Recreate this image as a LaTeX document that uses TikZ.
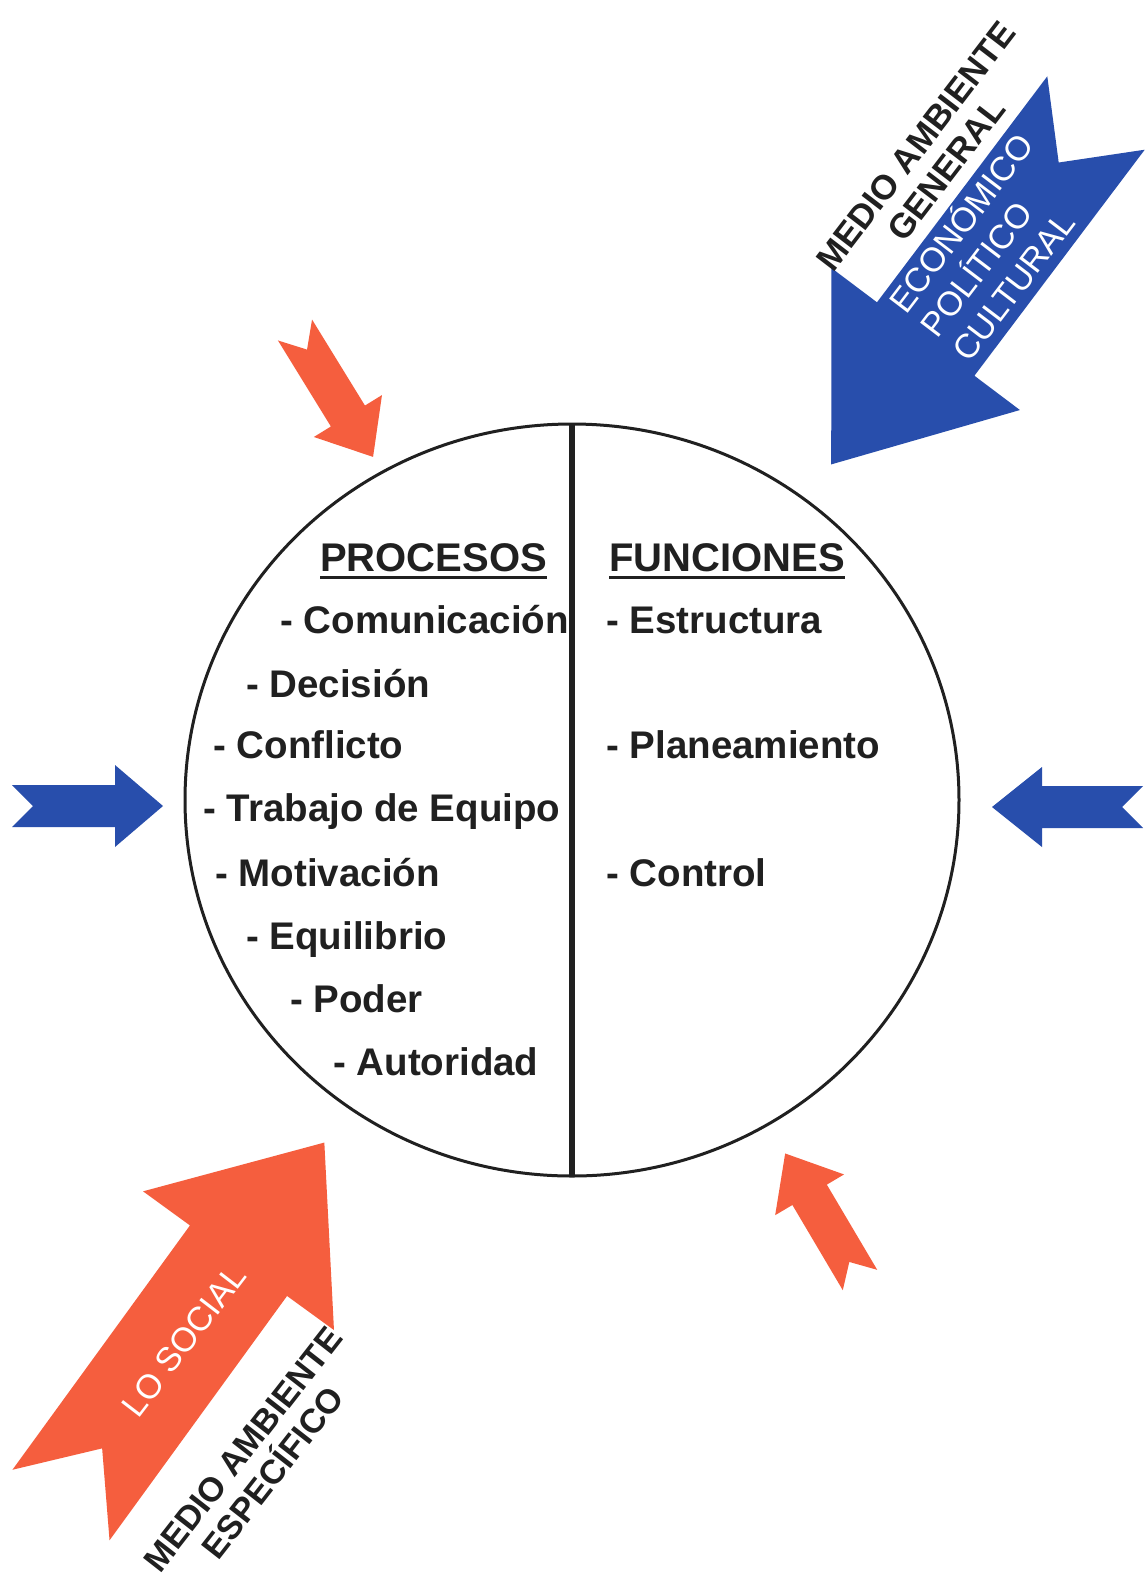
\documentclass[tikz,border=0pt]{standalone}
\usepackage{fontspec}
\setmainfont{Liberation Sans}
\definecolor{arrblue}{RGB}{40,78,172}
\definecolor{arrred}{RGB}{245,94,62}
\definecolor{ink}{RGB}{32,32,32}
% #1 colour, #2 #3 tail centre, #4 angle, #5 length, #6 shaft half width,
% #7 head half width, #8 head length, #9 notch depth
\newcommand\fatarrow[9]{%
  \fill[#1, shift={(#2,#3)}, rotate=#4]
    (0,#6) -- ({#5-#8},#6) -- ({#5-#8},#7) -- (#5,0) -- ({#5-#8},-#7)
    -- ({#5-#8},-#6) -- (0,-#6) -- (#9,0) -- cycle;}
\begin{document}
\begin{tikzpicture}[x=1pt,y=-1pt,
  item/.style={anchor=base west, inner sep=0pt, text=ink,
    font=\fontsize{38.5}{40}\selectfont\bfseries},
  title/.style={item, font=\fontsize{40}{42}\selectfont\bfseries},
  uline/.style={line width=3pt, draw=ink},
  outertxt/.style={inner sep=0pt, align=center, text=ink,
    font=\fontsize{34.5}{38}\selectfont\bfseries},
  innertxt/.style={inner sep=0pt, text=white,
    font=\fontsize{34}{40}\selectfont}]
\useasboundingbox (0,0) rectangle (1145,1580);
\fill[white] (0,0) rectangle (1145,1580);

% circle and divider
\coordinate (c) at (572,800);
\coordinate (ctop) at (572,424);
\coordinate (cbot) at (572,1176);
\draw[line width=3pt, draw=ink] (c) ellipse [x radius=387, y radius=376];
\draw[line width=5.5pt, draw=ink] (ctop) -- (cbot);

% headings
\node[title] (proc) at (320,571) {PROCESOS};
\node[title] (func) at (609,571) {FUNCIONES};
\draw[uline] ([yshift=-6pt]proc.base west) -- ([yshift=-6pt]proc.base east);
\draw[uline] ([yshift=-6pt]func.base west) -- ([yshift=-6pt]func.base east);

% processes
\node[item] (p1) at (280,633) {- Comunicación};
\node[item] (p2) at (246,697) {- Decisión};
\node[item] (p3) at (213,758) {- Conflicto};
\node[item] (p4) at (203,821) {- Trabajo de Equipo};
\node[item] (p5) at (215,886) {- Motivación};
\node[item] (p6) at (246,949) {- Equilibrio};
\node[item] (p7) at (290,1012) {- Poder};
\node[item] (p8) at (333,1075) {- Autoridad};

% functions
\node[item] (f1) at (606,633) {- Estructura};
\node[item] (f2) at (606,758) {- Planeamiento};
\node[item] (f3) at (606,886) {- Control};

% small arrows
\fatarrow{arrblue}{12}{806}{0}{151}{21}{41}{48}{21}
\fatarrow{arrblue}{1143}{807}{180}{151}{21}{40}{50}{21}
\fatarrow{arrred}{295}{330}{-58.4}{149}{20}{40}{48}{23}
\fatarrow{arrred}{860}{1280}{120.6}{147}{20}{40}{48}{21}

% big arrows
\fatarrow{arrblue}{1096}{113}{-127}{440}{61}{118}{157}{62}
\fatarrow{arrred}{61}{1505}{54}{448}{60}{118}{146}{70}

% labels of big arrows
\node[outertxt, rotate=52.5] (mag) at (931,158) {MEDIO AMBIENTE\\GENERAL};
\node[innertxt, rotate=52.7, align=left] (epc) at (991,246)
  {ECONÓMICO\\POLÍTICO\\CULTURAL};
\node[innertxt, rotate=52.5] (soc) at (184,1341) {LO SOCIAL};
\node[outertxt, rotate=52, font=\fontsize{34}{38}\selectfont\bfseries]
  (mae) at (258,1461) {MEDIO AMBIENTE\\ESPECÍFICO};
\end{tikzpicture}
\end{document}
